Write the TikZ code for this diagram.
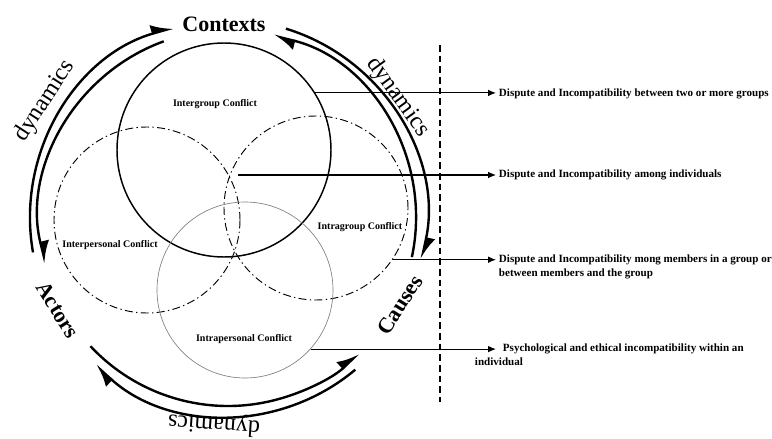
\documentclass[tikz,border=0pt]{standalone}
\usepackage{fontspec}
\setmainfont{Liberation Serif}
\usetikzlibrary{arrows.meta}

\begin{document}
\begin{tikzpicture}[x=0.75pt, y=0.75pt,
    ring/.style={line width=1.8pt},
    tip/.style={-{Latex[harpoon, length=14pt, width=14pt]}},
    dashdot/.style={draw, circle, line width=0.7pt, dash pattern=on 6pt off 2.5pt on 1pt off 2.5pt},
    link/.style={line width=0.8pt, -{Latex[length=6pt, width=5pt]}},
    lbl/.style={font=\fontsize{7.5}{9.5}\selectfont\bfseries},
    desc/.style={font=\fontsize{8.3}{10.5}\selectfont\bfseries, anchor=west, inner sep=2pt, align=left},
    big/.style={font=\fontsize{16.5}{18}\selectfont\bfseries},
    dyn/.style={font=\fontsize{18}{20}\selectfont}]
  \useasboundingbox (0,0) rectangle (772,-439);

  % conflict circles
  \node[draw, circle, line width=1.1pt, minimum size=160.5pt] (inter) at (224,-150) {};
  \node[dashdot, minimum size=139.5pt] (interp) at (147,-220) {};
  \node[dashdot, minimum size=138pt] (intra) at (316,-208) {};
  \node[draw=gray, circle, line width=0.5pt, minimum size=132pt] (intrap) at (245,-290) {};

  \node[lbl] (interl) at (215,-104) {Intergroup Conflict};
  \node[lbl] (interpl) at (110,-245) {Interpersonal Conflict};
  \node[lbl] (intral) at (360,-227) {Intragroup Conflict};
  \node[lbl] (intrapl) at (244,-339) {Intrapersonal Conflict};

  % outer cycle
  \coordinate (O) at (228,-218);
  \draw[ring, tip] ([shift={(190:198)}]O) arc[start angle=190, end angle=106, radius=198];
  \draw[ring, tip] ([shift={(110:188)}]O) arc[start angle=110, end angle=194, radius=188];
  \draw[ring, tip] ([shift={(-12:188)}]O) arc[start angle=-12, end angle=76, radius=188];
  \draw[ring, tip] ([shift={(73:198)}]O) arc[start angle=73, end angle=-12, radius=198];
  \draw[ring, tip] ([shift={(310:198)}]O) arc[start angle=310, end angle=228, radius=198];
  \draw[ring, tip] ([shift={(223:188)}]O) arc[start angle=223, end angle=314, radius=188];

  \node[big] (ctx) at (224,-24) {Contexts};
  \node[big, rotate=-58] (act) at (58,-310) {Actors};
  \node[big, rotate=58] (cau) at (400,-305) {Causes};
  \node[dyn, rotate=57] (dyn1) at (45,-101) {dynamics};
  \node[dyn, rotate=-54] (dyn2) at (398,-97) {dynamics};
  \node[dyn, rotate=176] (dyn3) at (214,-424) {dynamics};

  % separator
  \coordinate (dtop) at (440,-45);
  \coordinate (dbot) at (440,-402);
  \draw[line width=0.9pt, dash pattern=on 5pt off 3pt] (dtop) -- (dbot);

  % descriptions
  \node[desc] (d1) at (496,-94) {Dispute and Incompatibility between two or more groups};
  \node[desc] (d2) at (496,-175) {Dispute and Incompatibility among individuals};
  \node[desc, anchor=north west] (d3) at (496,-252) {Dispute and Incompatibility mong members in a group or\\between members and the group};
  \node[desc, anchor=north west] (d4) at (472,-341) {\hspace*{21pt}Psychological and ethical incompatibility within an\\individual};

  \coordinate (core) at (238,-175);
  \draw[link] (inter.32) -- (inter.32 -| d1.west);
  \draw[link] (core) -- (core -| d2.west);
  \draw[link] (intra.-34) -- (intra.-34 -| d3.west);
  \draw[link] (intrap.-42) -- (intrap.-42 -| d1.west);
\end{tikzpicture}
\end{document}
